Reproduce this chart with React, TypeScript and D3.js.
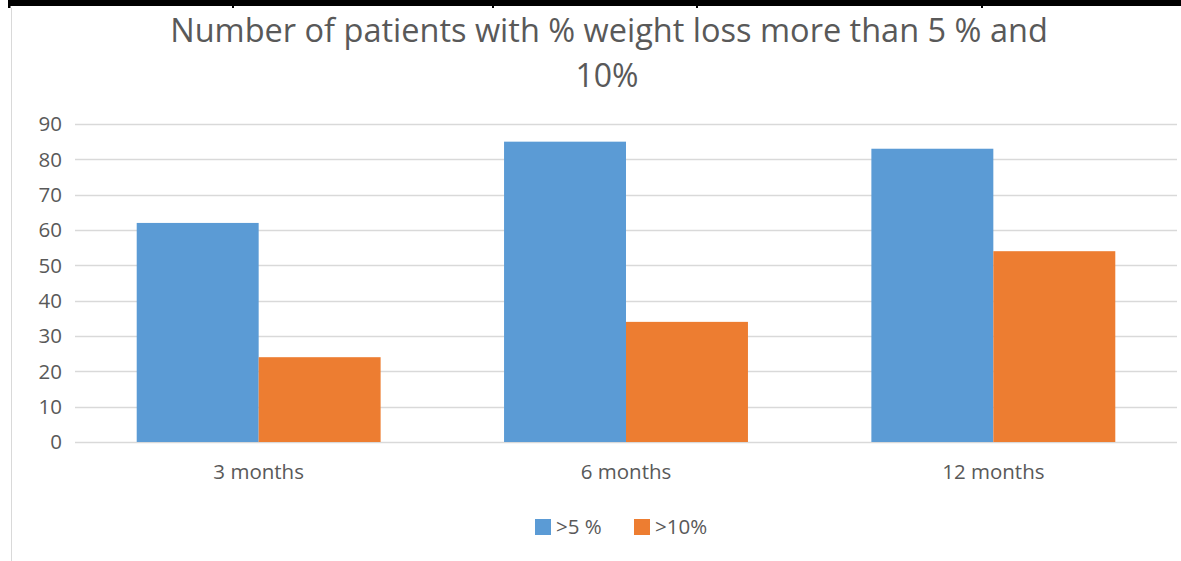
import React from "react";
import * as d3 from "d3";

// Chart data
const categories = ["3 months", "6 months", "12 months"];
const seriesNames = [">5 %", ">10%"];
const over5 = [62, 85, 83];
const over10 = [24, 34, 54];
const yTicks = [0, 10, 20, 30, 40, 50, 60, 70, 80, 90];
const titleLines = ["Number of patients with % weight loss more than 5 % and", "10%"];
const colors = ["#5B9BD5", "#ED7D31"];
// Dividers on the black strip at the top edge
const stripDividers = [233, 493, 697, 982];

const W = 1181;
const H = 561;
const plot = { left: 75, right: 1177, top: 124, bottom: 442 };
const FONT = "'Open Sans', 'Noto Sans', sans-serif";
const TEXT = "#595959";
const LABEL_SIZE = 20.5;

export default function App() {
  const series = [over5, over10];
  const x0 = d3
    .scaleBand<string>()
    .domain(categories)
    .range([plot.left, plot.right])
    .paddingInner(0.336)
    .paddingOuter(0.168);
  const x1 = d3
    .scaleBand<string>()
    .domain(seriesNames)
    .range([0, x0.bandwidth()]);
  const y = d3.scaleLinear().domain([0, 90]).range([plot.bottom, plot.top]);

  return (
    <svg
      width={W}
      height={H}
      style={{ position: "absolute", left: 0, top: 0, background: "#fff" }}
      fontFamily={FONT}
    >
      {/* black strip at the top */}
      <rect x={8} y={0} width={W - 8} height={6} fill="#000" />
      <rect x={8} y={0} width={2.5} height={8} fill="#000" />
      {stripDividers.map((d) => (
        <rect key={d} x={d - 1} y={0} width={2} height={8} fill="#000" />
      ))}
      {/* chart area border */}
      <line x1={11.5} x2={11.5} y1={8} y2={H} stroke="#D9D9D9" strokeWidth={1} />

      {/* title */}
      <text x={609} y={42} textAnchor="middle" fontSize={32.5} fill={TEXT}>
        {titleLines[0]}
      </text>
      <text x={607} y={87} textAnchor="middle" fontSize={32} fill={TEXT}>
        {titleLines[1]}
      </text>

      {/* gridlines and y labels */}
      {yTicks.map((t) => (
        <g key={t}>
          <line
            x1={plot.left}
            x2={plot.right}
            y1={Math.round(y(t)) + 0.5}
            y2={Math.round(y(t)) + 0.5}
            stroke="#D9D9D9"
            strokeWidth={1.5}
          />
          <text
            x={62}
            y={y(t)}
            dy="0.36em"
            textAnchor="end"
            fontSize={LABEL_SIZE}
            fill={TEXT}
          >
            {t}
          </text>
        </g>
      ))}

      {/* bars */}
      {categories.map((c, i) => (
        <g key={c} transform={`translate(${x0(c)},0)`}>
          {series.map((s, j) => (
            <rect
              key={seriesNames[j]}
              x={x1(seriesNames[j])}
              y={y(s[i])}
              width={x1.bandwidth()}
              height={y(0) - y(s[i])}
              fill={colors[j]}
            />
          ))}
        </g>
      ))}

      {/* category labels */}
      {categories.map((c) => (
        <text
          key={c}
          x={(x0(c) as number) + x0.bandwidth() / 2}
          y={479}
          textAnchor="middle"
          fontSize={LABEL_SIZE}
          fill={TEXT}
        >
          {c}
        </text>
      ))}

      {/* legend */}
      {seriesNames.map((n, j) => {
        const lx = [535, 634][j];
        return (
          <g key={n}>
            <rect x={lx} y={519} width={16} height={16} fill={colors[j]} />
            <text x={lx + 21} y={534} fontSize={LABEL_SIZE} fill={TEXT}>
              {n}
            </text>
          </g>
        );
      })}
    </svg>
  );
}
